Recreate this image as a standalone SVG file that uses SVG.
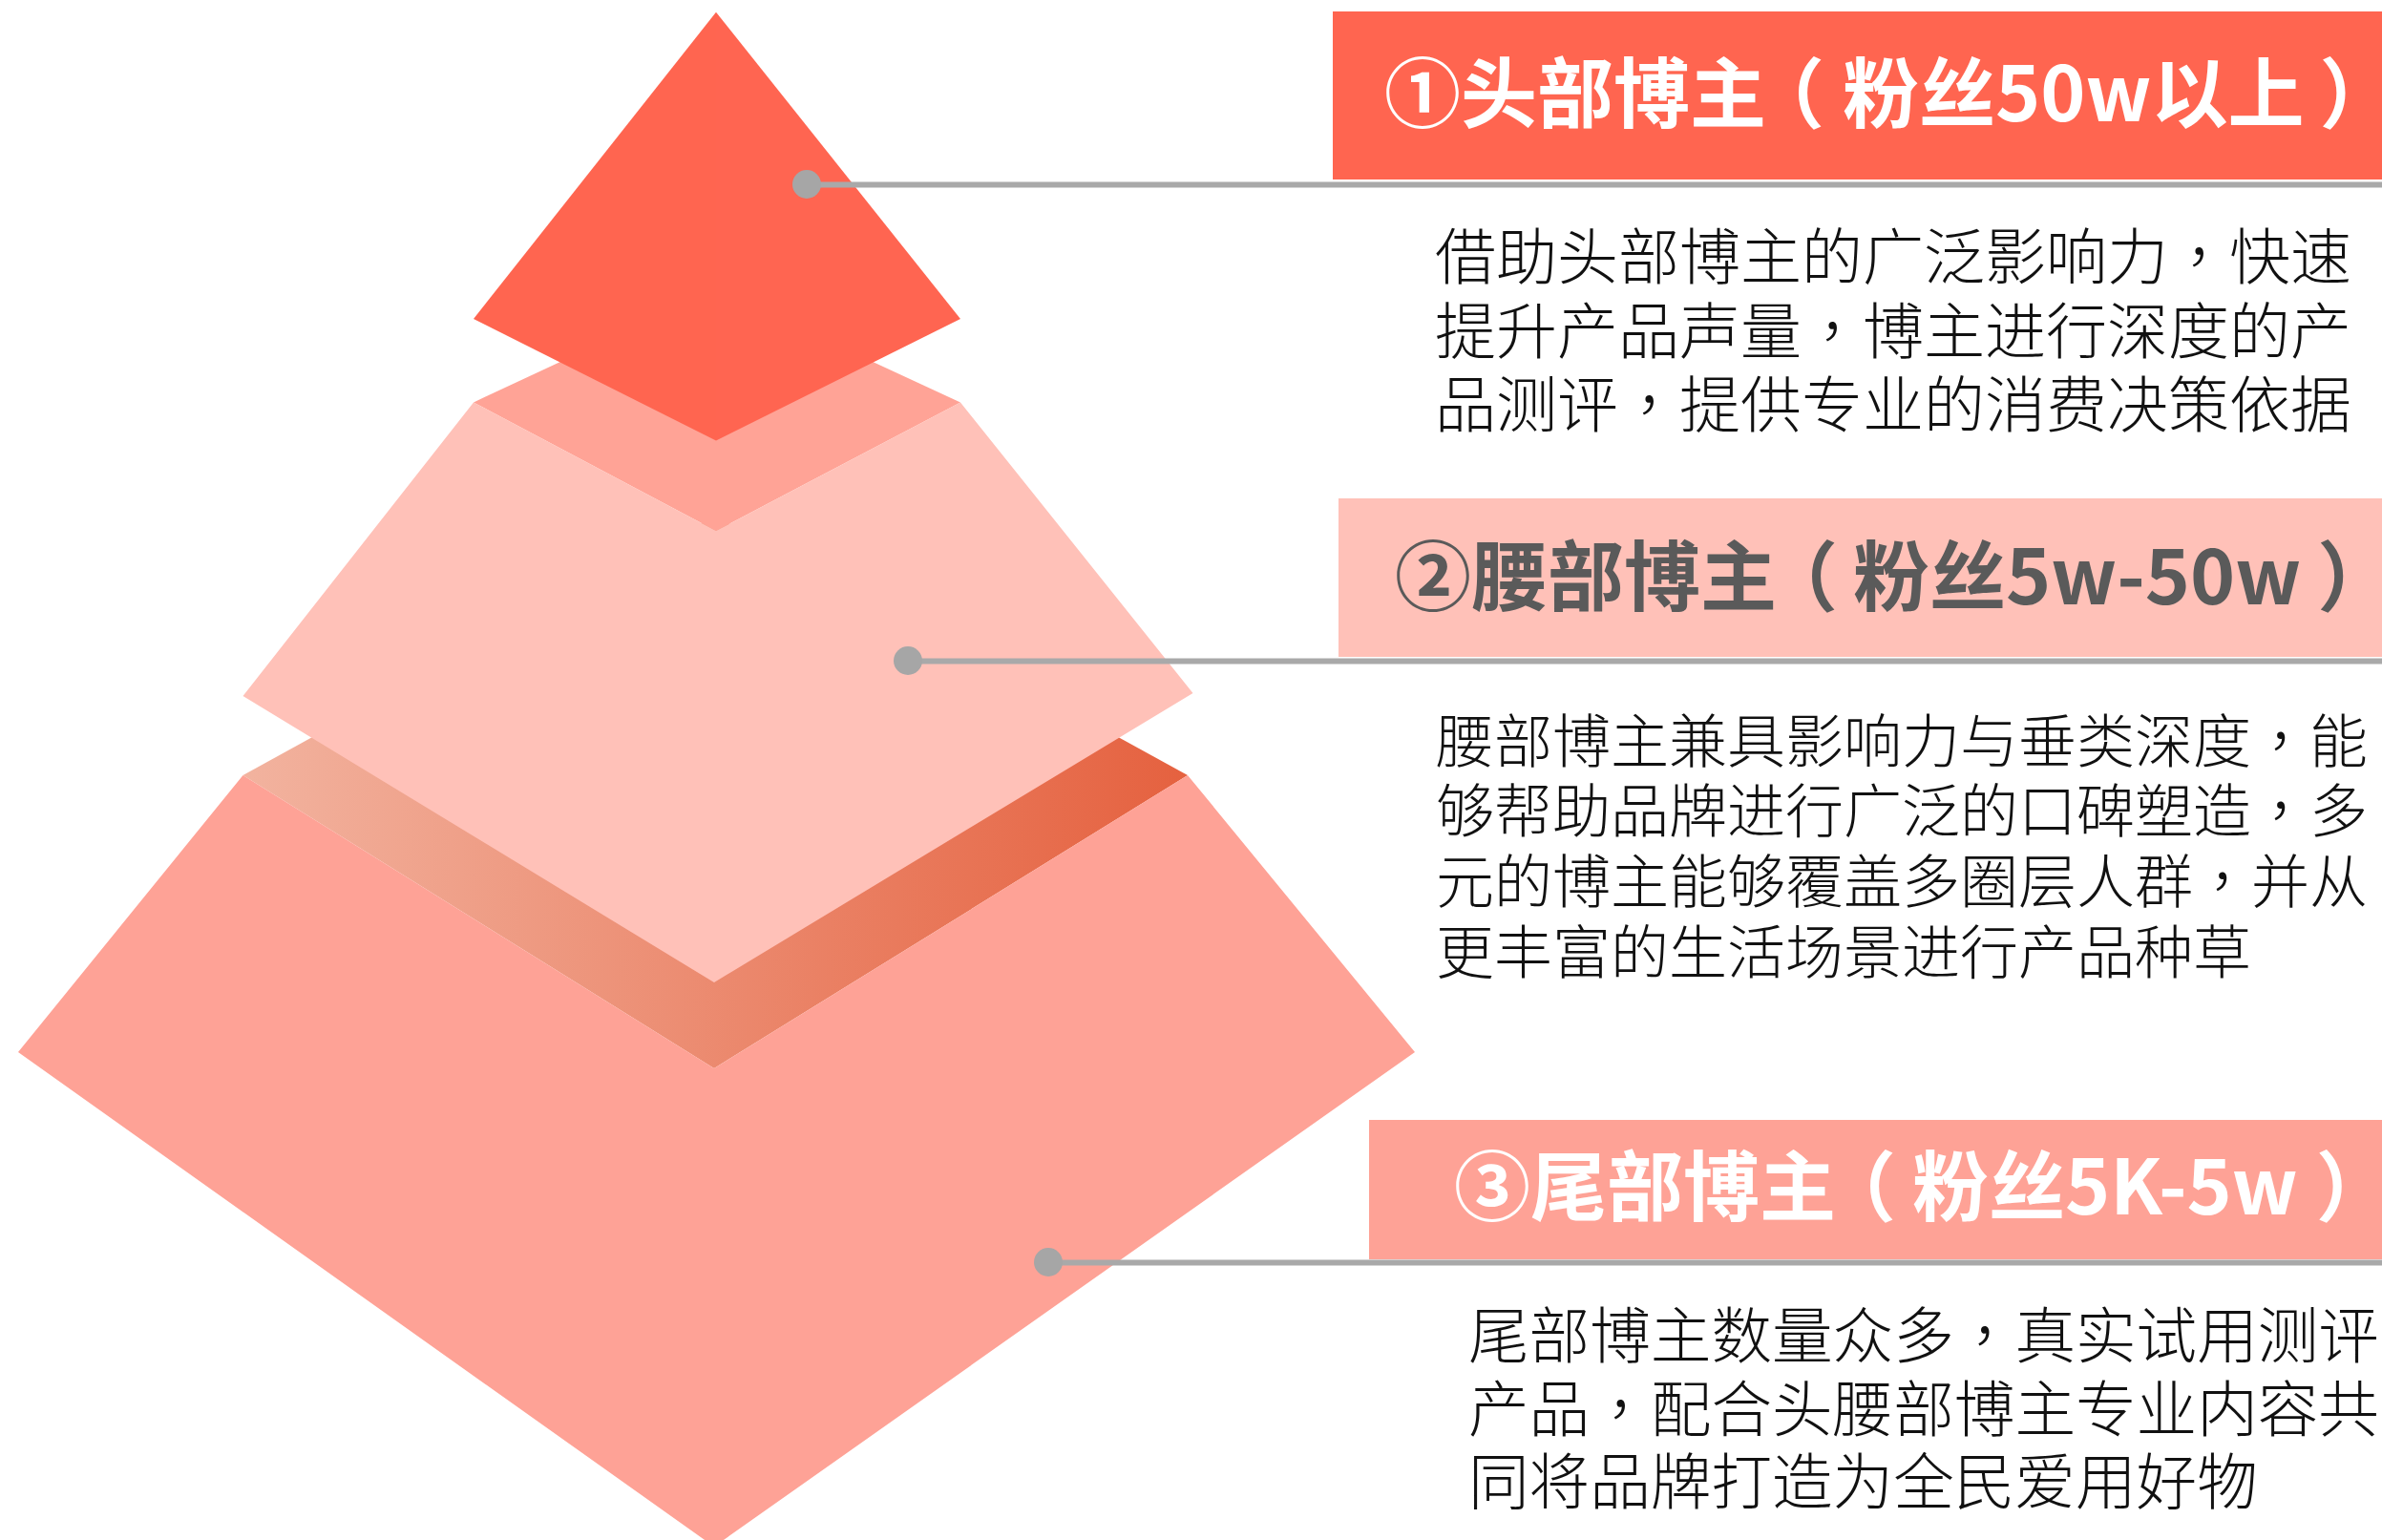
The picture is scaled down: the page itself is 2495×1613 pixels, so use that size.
<svg xmlns="http://www.w3.org/2000/svg" width="2495" height="1613" viewBox="0 0 2495 1613">
<defs>
<linearGradient id="gBottomTop" x1="254" y1="0" x2="1244" y2="0" gradientUnits="userSpaceOnUse">
<stop offset="0" stop-color="#F2B39F"/>
<stop offset="1" stop-color="#E5613F"/>
</linearGradient>
<style>
.hd{font-family:"Noto Sans CJK SC","Noto Sans",sans-serif;font-size:80px;font-weight:bold}
.bd{font-family:"Noto Sans CJK SC","Noto Sans",sans-serif;font-weight:300;fill:#111}
.p{font-family:"Noto Sans CJK TC","Noto Sans CJK SC",sans-serif}
.rp{letter-spacing:-30px}
.ln{stroke:#A9A9A9;stroke-width:6}
.dot{fill:#A6A6A6}
</style>
</defs>
<rect width="2495" height="1613" fill="#FFFFFF"/>
<g id="layer-bottom">
<polygon points="254.5,812 749,540 1244,812 748,1119" fill="url(#gBottomTop)"/>
<polygon points="254.5,812 748,1119 1244,812 1482,1102 748,1620 19,1102" fill="#FEA296"/>
</g>
<g id="layer-middle">
<polygon points="496,421.4 750,303 1006,421.4 750,556" fill="#FFA396"/>
<polygon points="496,421.4 750,556 1006,421.4 1249.5,726 748,1029 254.5,729" fill="#FFC1B8"/>
</g>
<g id="layer-top">
<polygon points="750,12.7 496,334 750,461.5" fill="#FF6550"/>
<polygon points="750,12.7 1006,334 750,461.5" fill="#FF6551"/>
</g>
<g id="connectors">
<line class="ln" x1="845" y1="193.5" x2="2495" y2="193.5"/>
<circle class="dot" cx="845" cy="193" r="15"/>
<line class="ln" x1="951" y1="692.5" x2="2495" y2="692.5"/>
<circle class="dot" cx="951" cy="692" r="15"/>
<line class="ln" x1="1098" y1="1322.5" x2="2495" y2="1322.5"/>
<circle class="dot" cx="1098" cy="1322" r="15"/>
</g>
<g id="node-1">
<rect x="1396" y="12" width="1099" height="176" fill="#FF6550"/>
<text class="hd" x="1450" y="127" fill="#FFFFFF">①头部博主<tspan dx="-19">（</tspan><tspan dx="19">粉丝50w以上</tspan><tspan class="rp" dx="16">）</tspan></text>
<text class="bd" font-size="64" x="1503">
<tspan x="1503" y="292">借助头部博主的广泛影响力<tspan class="p">，</tspan>快速</tspan>
<tspan x="1503" y="369.5">提升产品声量<tspan class="p">，</tspan>博主进行深度的产</tspan>
<tspan x="1503" y="446.5">品测评<tspan class="p">，</tspan>提供专业的消费决策依据</tspan>
</text>
</g>
<g id="node-2">
<rect x="1402" y="522" width="1093" height="166" fill="#FFC1B8"/>
<text class="hd" x="1461" y="633" fill="#5A5A5A">②腰部博主<tspan dx="-16">（</tspan><tspan dx="16">粉丝5w-50w</tspan><tspan class="rp" dx="17">）</tspan></text>
<text class="bd" font-size="61" x="1504">
<tspan x="1504" y="798.5">腰部博主兼具影响力与垂类深度<tspan class="p">，</tspan>能</tspan>
<tspan x="1504" y="872">够帮助品牌进行广泛的口碑塑造<tspan class="p">，</tspan>多</tspan>
<tspan x="1504" y="945.5">元的博主能够覆盖多圈层人群<tspan class="p">，</tspan>并从</tspan>
<tspan x="1504" y="1019.5">更丰富的生活场景进行产品种草</tspan>
</text>
</g>
<g id="node-3">
<rect x="1434" y="1173" width="1061" height="146" fill="#FEA296"/>
<text class="hd" x="1523" y="1272" fill="#FFFFFF">③尾部博主<tspan dx="-17">（</tspan><tspan dx="17">粉丝5K-5w</tspan><tspan class="rp" dx="19">）</tspan></text>
<text class="bd" font-size="63.6" x="1538">
<tspan x="1538" y="1422">尾部博主数量众多<tspan class="p">，</tspan>真实试用测评</tspan>
<tspan x="1538" y="1498.5">产品<tspan class="p">，</tspan>配合头腰部博主专业内容共</tspan>
<tspan x="1538" y="1575">同将品牌打造为全民爱用好物</tspan>
</text>
</g>
</svg>
